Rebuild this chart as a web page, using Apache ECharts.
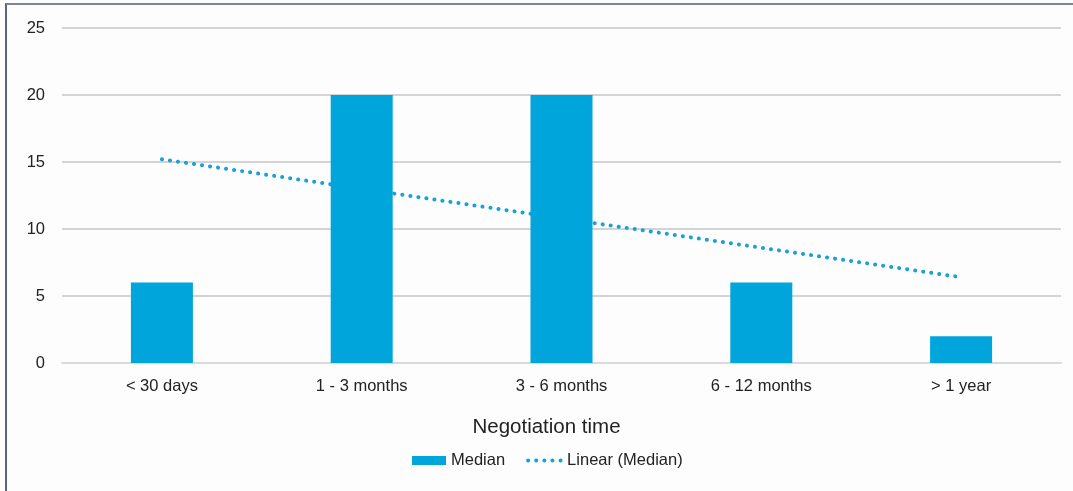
<!DOCTYPE html>
<html>
<head>
<meta charset="utf-8">
<script src="https://cdn.jsdelivr.net/npm/echarts@6/dist/echarts.min.js"></script>
<style>
  html, body { margin: 0; padding: 0; background: #fdfdfd; }
  #frame {
    position: absolute; left: 5px; top: 3px; right: 0; bottom: 0;
    border-left: 2px solid #5b6385; border-top: 2px solid #7d839c;
  }
  #chart { position: absolute; left: 0; top: 0; width: 1073px; height: 491px; }
</style>
</head>
<body>
<div id="frame"></div>
<div id="chart"></div>
<script>
// Negotiation time buckets
const categories = ['< 30 days', '1 - 3 months', '3 - 6 months', '6 - 12 months', '> 1 year'];
// Median values per bucket
const medianValues = [6, 20, 20, 6, 2];
// Linear trend of the medians
const trendValues = [15.2, 13.0, 10.8, 8.6, 6.4];
// Value axis ticks
const yTicks = [0, 5, 10, 15, 20, 25];

const BLUE = '#00a5db';
const DOT_BLUE = '#1aa0d8';
const FONT = '"Liberation Sans", Arial, sans-serif';
const DOTS = { width: 4, type: [0.1, 8], cap: 'round' };

const chart = echarts.init(document.getElementById('chart'), null, { renderer: 'canvas' });
chart.setOption({
  animation: false,
  backgroundColor: 'transparent',
  grid: { left: 62, right: 12, top: 28, bottom: 128, containLabel: false },
  legend: {
    top: 447,
    left: 407,
    itemGap: 21,
    itemWidth: 34,
    itemHeight: 9,
    textStyle: { fontFamily: FONT, fontSize: 16.5, color: '#222' },
    data: [
      { name: 'Median', icon: 'rect' },
      {
        name: 'Linear (Median)',
        itemStyle: { opacity: 0 },
        lineStyle: Object.assign({ color: DOT_BLUE }, DOTS)
      }
    ]
  },
  xAxis: {
    type: 'category',
    data: categories,
    name: 'Negotiation time',
    nameLocation: 'middle',
    nameGap: 54,
    nameTextStyle: { fontFamily: FONT, fontSize: 20.5, color: '#222', padding: [0, 30, 0, 0] },
    axisLine: { show: true, lineStyle: { color: '#dadada', width: 2 } },
    axisTick: { show: false },
    axisLabel: { fontFamily: FONT, fontSize: 16.5, color: '#222', margin: 15 }
  },
  yAxis: {
    type: 'value',
    min: yTicks[0],
    max: yTicks[yTicks.length - 1],
    interval: 5,
    axisLine: { show: false },
    axisTick: { show: false },
    axisLabel: { fontFamily: FONT, fontSize: 16.5, color: '#222', margin: 17 },
    splitLine: { lineStyle: { color: '#d4d4d4', width: 2 } }
  },
  series: [
    {
      name: 'Linear (Median)',
      type: 'line',
      data: trendValues,
      z: 1,
      symbol: 'none',
      color: DOT_BLUE,
      lineStyle: Object.assign({ color: DOT_BLUE }, DOTS)
    },
    {
      name: 'Median',
      type: 'bar',
      data: medianValues,
      z: 3,
      barWidth: 62,
      itemStyle: { color: BLUE }
    }
  ]
});
</script>
</body>
</html>
